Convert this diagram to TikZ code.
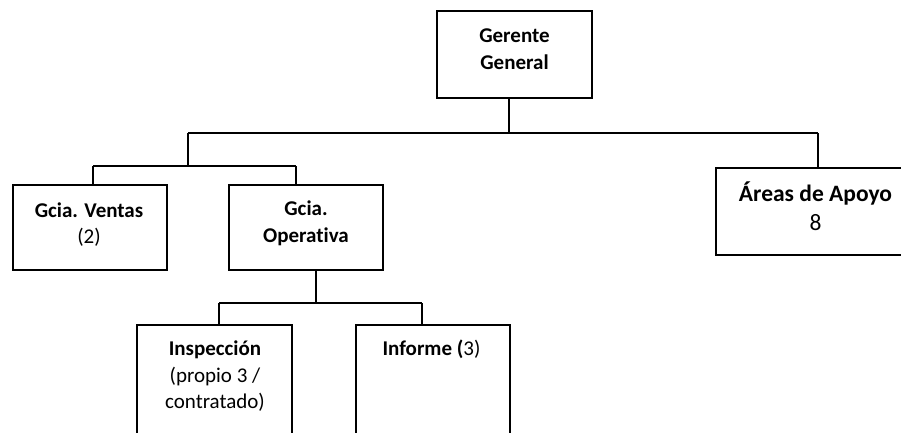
\documentclass[tikz,border=0pt]{standalone}
\usepackage{fontspec}
\setmainfont[Ligatures=NoCommon]{Carlito}
\begin{document}
\begin{tikzpicture}[x=1pt,y=-1pt,
  box/.style={draw, line width=1.7pt, rectangle, inner sep=0pt},
  conn/.style={line width=1.5pt},
  lbl/.style={align=center, inner sep=0pt, font=\fontsize{21}{26.5}\selectfont},
  biglbl/.style={align=center, inner sep=0pt, font=\fontsize{23.5}{29}\selectfont}]
\useasboundingbox (0,0) rectangle (901,432);
\clip (0,0) rectangle (901,432);
% boxes
\node[box, minimum width=155pt, minimum height=87pt] (gg) at (514.5,54.5) {};
\node[box, minimum width=154pt, minimum height=85pt] (ven) at (90,227.5) {};
\node[box, minimum width=154pt, minimum height=85pt] (op) at (306,227.5) {};
\node[box, minimum width=199pt, minimum height=87pt] (ar) at (815.5,211.5) {};
\node[box, minimum width=155pt, minimum height=140pt, anchor=north] (insp) at (214.5,324) {};
\node[box, minimum width=154pt, minimum height=140pt, anchor=north] (inf) at (433,324) {};
% texts
\node[lbl] (ggt) at (514.5,49) {\textbf{Gerente}\\\textbf{General}};
\node[lbl] (vent) at (89,224.5) {\textbf{Gcia. Ventas}\\(2)};
\node[lbl] (opt) at (306,223.5) {\textbf{Gcia.}\\\textbf{Operativa}};
\node[biglbl] (art) at (815.5,206) {\textbf{Áreas de Apoyo}\\8};
\node[lbl, anchor=north] (inspt) at (215,341) {\textbf{Inspección}\\(propio 3 /\\contratado)};
\node[lbl, anchor=north] (inft) at (431.5,340) {\textbf{Informe (}3)};
% junctions
\coordinate (j1) at (509,133);
\coordinate (j2) at (188,133);
\coordinate (j3) at (818,133);
\coordinate (j4) at (188,166);
\coordinate (j5) at (93,166);
\coordinate (j6) at (296,166);
\coordinate (j7) at (316,303);
\coordinate (j8) at (219,303);
\coordinate (j9) at (422,303);
% connectors
\draw[conn] (j1 |- gg.south) -- (j1);
\draw[conn] (j2) -- (j3);
\draw[conn] (j2) -- (j4);
\draw[conn] (j5) -- (j6);
\draw[conn] (j5) -- (j5 |- ven.north);
\draw[conn] (j6) -- (j6 |- op.north);
\draw[conn] (j3) -- (j3 |- ar.north);
\draw[conn] (j7 |- op.south) -- (j7);
\draw[conn] (j8) -- (j9);
\draw[conn] (j8) -- (j8 |- insp.north);
\draw[conn] (j9) -- (j9 |- inf.north);
\end{tikzpicture}
\end{document}
